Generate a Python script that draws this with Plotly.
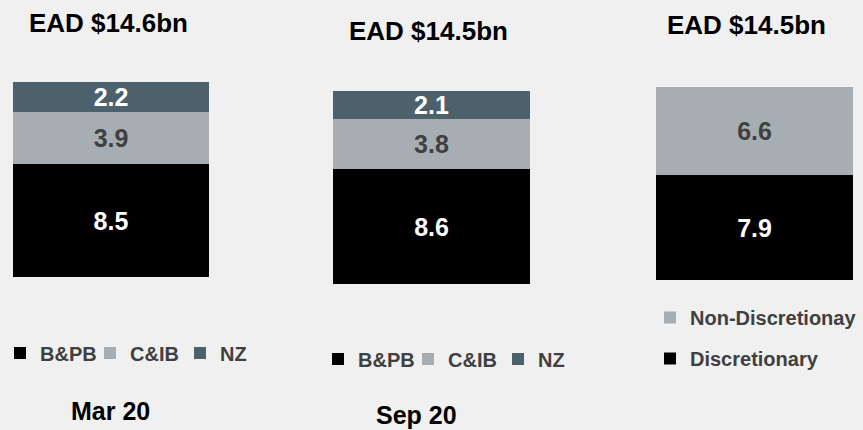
import plotly.graph_objects as go

# ---- data ----
periods = ["Mar 20", "Sep 20"]
ead_titles = ["EAD $14.6bn", "EAD $14.5bn", "EAD $14.5bn"]
segment_names = ["B&PB", "C&IB", "NZ"]
bpb = [8.5, 8.6]
cib = [3.9, 3.8]
nz = [2.2, 2.1]
mix_period = ["Sep 20"]
mix_names = ["Discretionary", "Non-Discretionay"]
discretionary = [7.9]
non_discretionary = [6.6]

# ---- style ----
FONT = "Arial, 'Liberation Sans', Helvetica, sans-serif"
BLACK = "#000000"
GREY = "#a6adb3"
SLATE = "#4d616c"
DARK = "#404040"
BG = "#f0f0f0"
W, H = 863, 430

fig = go.Figure()

seg_series = [bpb, cib, nz]
seg_colors = [BLACK, GREY, SLATE]
seg_text = ["white", DARK, "white"]

for i, p in enumerate(periods):
    sfx = "" if i == 0 else str(i + 1)
    for name, vals, col, tcol in zip(segment_names, seg_series, seg_colors, seg_text):
        fig.add_trace(go.Bar(
            x=[p], y=[vals[i]], name=name,
            xaxis="x" + sfx, yaxis="y" + sfx, legend="legend" + sfx,
            marker=dict(color=col, line_width=0),
            texttemplate="%{y:.1f}", textposition="inside",
            insidetextanchor="middle", constraintext="none",
            textfont=dict(family=FONT, size=25, color=tcol, weight="bold"),
            hoverinfo="skip",
        ))

mix_series = [discretionary, non_discretionary]
mix_colors = [BLACK, GREY]
mix_text = ["white", DARK]
mix_rank = [2, 1]
for name, vals, col, tcol, rk in zip(mix_names, mix_series, mix_colors, mix_text, mix_rank):
    fig.add_trace(go.Bar(
        x=mix_period, y=vals, name=name,
        xaxis="x3", yaxis="y3", legend="legend3", legendgroup=name, legendrank=rk,
        marker=dict(color=col, line_width=0),
        texttemplate="%{y:.1f}", textposition="inside",
        insidetextanchor="middle", constraintext="none",
        textfont=dict(family=FONT, size=25, color=tcol, weight="bold"),
        hoverinfo="skip",
    ))


def px_x(a, b):
    return [a / W, b / W]


def px_y(bottom, top):
    return [1 - bottom / H, 1 - top / H]


ax = dict(visible=False, fixedrange=True)
yax = dict(visible=False, fixedrange=True, range=[0, 15])

legend_font = dict(family=FONT, size=20, color=DARK, weight="bold")

fig.update_layout(
    width=W, height=H,
    margin=dict(l=0, r=0, t=0, b=0),
    paper_bgcolor=BG, plot_bgcolor=BG,
    barmode="stack", bargap=0,
    xaxis=dict(ax, domain=px_x(13, 209)),
    yaxis=dict(yax, domain=px_y(277, 77)),
    xaxis2=dict(ax, domain=px_x(333, 530), anchor="y2"),
    yaxis2=dict(yax, domain=px_y(284, 84), anchor="x2"),
    xaxis3=dict(ax, domain=px_x(656, 853), anchor="y3"),
    yaxis3=dict(yax, domain=px_y(280, 80), anchor="x3"),
    legend=dict(x=0, xanchor="left", y=1 - 353 / H, yanchor="middle",
                orientation="h", traceorder="normal", entrywidth=45,
                font=legend_font, bgcolor="rgba(0,0,0,0)"),
    legend2=dict(x=318 / W, xanchor="left", y=1 - 359 / H, yanchor="middle",
                 orientation="h", traceorder="normal", entrywidth=45,
                 font=legend_font, bgcolor="rgba(0,0,0,0)"),
    legend3=dict(x=650 / W, xanchor="left", y=1 - 338 / H, yanchor="middle",
                 orientation="v", font=legend_font, bgcolor="rgba(0,0,0,0)",
                 traceorder="grouped", tracegroupgap=12),
    showlegend=True,
)

title_pos = [(108, 23), (428, 31), (746, 25)]
for t, (cx, cy) in zip(ead_titles, title_pos):
    fig.add_annotation(text=t, x=cx / W, y=1 - cy / H, xref="paper", yref="paper",
                       showarrow=False, xanchor="center", yanchor="middle",
                       font=dict(family=FONT, size=26, color=BLACK, weight="bold"))

period_pos = [(110, 411), (416, 415)]
for t, (cx, cy) in zip(periods, period_pos):
    fig.add_annotation(text=t, x=cx / W, y=1 - cy / H, xref="paper", yref="paper",
                       showarrow=False, xanchor="center", yanchor="middle", borderpad=0,
                       font=dict(family=FONT, size=25, color=BLACK, weight="bold"))

fig.write_html("out.html", config={"displayModeBar": False},
               post_script="document.body.style.margin='0';")
